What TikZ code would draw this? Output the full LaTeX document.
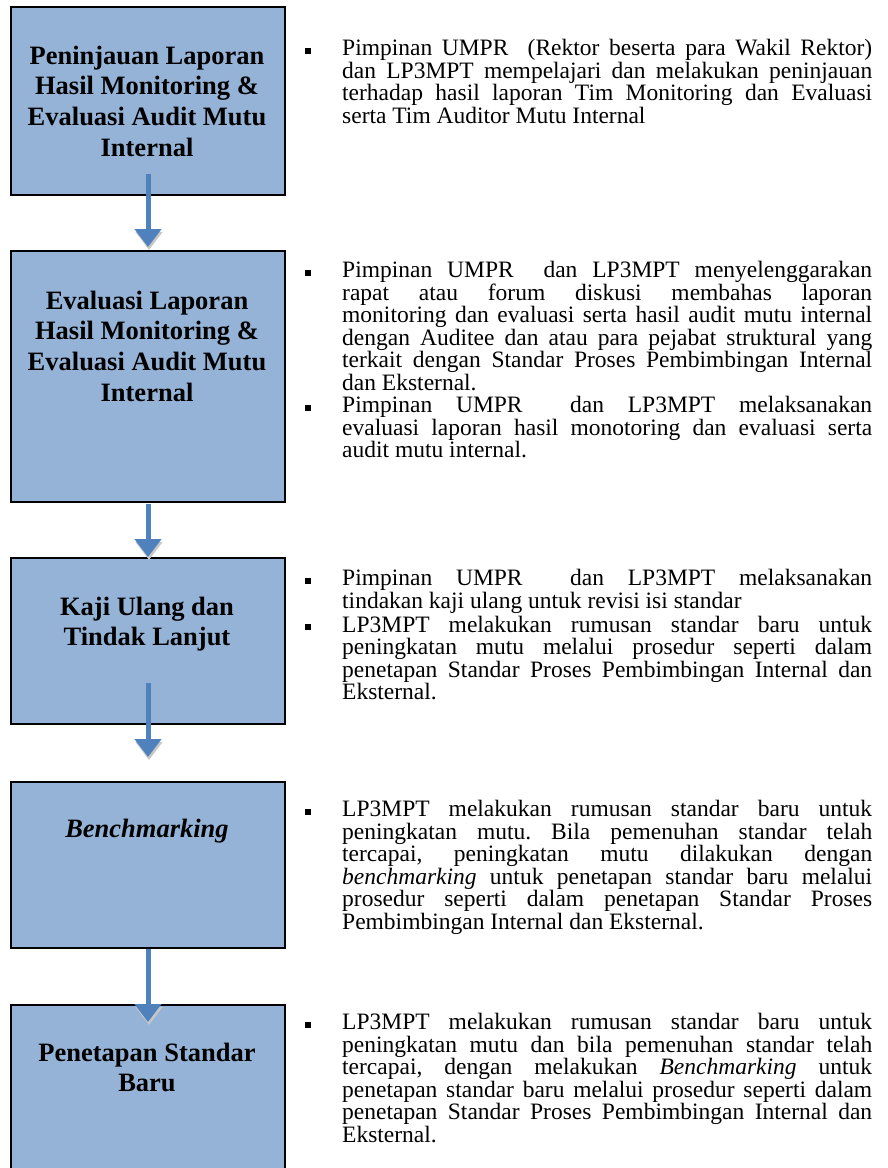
\documentclass[tikz,border=0pt]{standalone}
\usepackage{fontspec}
\setmainfont{Liberation Serif}
\usetikzlibrary{arrows.meta}
\definecolor{isikotak}{RGB}{149,179,215}
\definecolor{birupanah}{RGB}{79,129,189}
\setlength{\lineskiplimit}{-50pt}
\frenchspacing
\newcommand{\butir}{\par\noindent\hangindent=37pt\hangafter=1\makebox[37pt][l]{\rule[2pt]{6pt}{6pt}\rule{0pt}{18pt}}}
\newcommand{\atasjudul}{\rule{0pt}{24pt}}
\begin{document}
\begin{tikzpicture}[x=1pt,y=-1pt,
  kotak/.style={draw,line width=2pt,fill=isikotak,rectangle,anchor=north west,minimum width=274pt,inner sep=0pt},
  judul/.style={anchor=north,align=center,inner sep=0pt,font=\bfseries\fontsize{26.5}{30.6}\selectfont},
  uraian/.style={anchor=north west,text width=567pt,align=justify,inner sep=0pt,font=\fontsize{23.5}{22.5}\selectfont},
  panah/.style={draw=birupanah,line width=5pt,-{Triangle[width=26pt,length=18pt]},
    preaction={draw=black!22,transform canvas={xshift=1pt,yshift=-3pt}}}]
\useasboundingbox (0,0) rectangle (888,1168);
\clip (0,0) rectangle (888,1168);
% Kotak
\node [kotak,minimum height=188pt] (b1) at (10,6) {};
\node [kotak,minimum height=251pt] (b2) at (10,250) {};
\node [kotak,minimum height=166pt] (b3) at (10,557) {};
\node [kotak,minimum height=166pt] (b4) at (10,781) {};
\node [kotak,minimum height=180pt] (b5) at (10,1004) {};
%
\node [judul] (j1) at (147,40) {\atasjudul Peninjauan Laporan\\Hasil Monitoring \&\\Evaluasi Audit Mutu\\Internal};
\node [judul] (j2) at (147,285) {\atasjudul Evaluasi Laporan\\Hasil Monitoring \&\\Evaluasi Audit Mutu\\Internal};
\node [judul] (j3) at (147,591) {\atasjudul Kaji Ulang dan\\Tindak Lanjut};
\node [judul] (j4) at (147,813) {\atasjudul\itshape Benchmarking};
\node [judul] (j5) at (147,1037) {\atasjudul Penetapan Standar\\Baru};
%
% Panah
\draw [panah] ([yshift=22pt]b1.south) -- ([yshift=3pt]b2.north);
\draw [panah] ([yshift=-1pt]b2.south) -- (b3.north);
\draw [panah] ([yshift=42pt]b3.south) -- ([yshift=24pt]b4.north);
\draw [panah] (b4.south) -- ([yshift=-18pt]b5.north);
%
% Uraian
\node [uraian] (u1) at (305,33) {\butir Pimpinan UMPR\ \ (Rektor beserta para Wakil Rektor)\linebreak
dan LP3MPT mempelajari dan melakukan peninjauan\linebreak
terhadap hasil laporan Tim Monitoring dan Evaluasi\linebreak
serta Tim Auditor Mutu Internal\par};
\node [uraian] (u2) at (305,255) {\butir Pimpinan UMPR\ \ dan LP3MPT menyelenggarakan\linebreak
rapat atau forum diskusi membahas laporan\linebreak
monitoring dan evaluasi serta hasil audit mutu internal\linebreak
dengan Auditee dan atau para pejabat struktural yang\linebreak
terkait dengan Standar Proses Pembimbingan Internal\linebreak
dan Eksternal.
\butir Pimpinan UMPR\ \ dan LP3MPT melaksanakan\linebreak
evaluasi laporan hasil monotoring dan evaluasi serta\linebreak
audit mutu internal.\par};
\node [uraian] (u3) at (305,563) {\butir Pimpinan UMPR\ \ dan LP3MPT melaksanakan\linebreak
tindakan kaji ulang untuk revisi isi standar
\butir LP3MPT melakukan rumusan standar baru untuk\linebreak
peningkatan mutu melalui prosedur seperti dalam\linebreak
penetapan Standar Proses Pembimbingan Internal dan\linebreak
Eksternal.\par};
\node [uraian] (u4) at (305,794) {\butir LP3MPT melakukan rumusan standar baru untuk\linebreak
peningkatan mutu. Bila pemenuhan standar telah\linebreak
tercapai, peningkatan mutu dilakukan dengan\linebreak
\textit{benchmarking} untuk penetapan standar baru melalui\linebreak
prosedur seperti dalam penetapan Standar Proses\linebreak
Pembimbingan Internal dan Eksternal.\par};
\node [uraian] (u5) at (305,1007) {\butir LP3MPT melakukan rumusan standar baru untuk\linebreak
peningkatan mutu dan bila pemenuhan standar telah\linebreak
tercapai, dengan melakukan \textit{Benchmarking} untuk\linebreak
penetapan standar baru melalui prosedur seperti dalam\linebreak
penetapan Standar Proses Pembimbingan Internal dan\linebreak
Eksternal.\par};
%
\end{tikzpicture}
\end{document}
